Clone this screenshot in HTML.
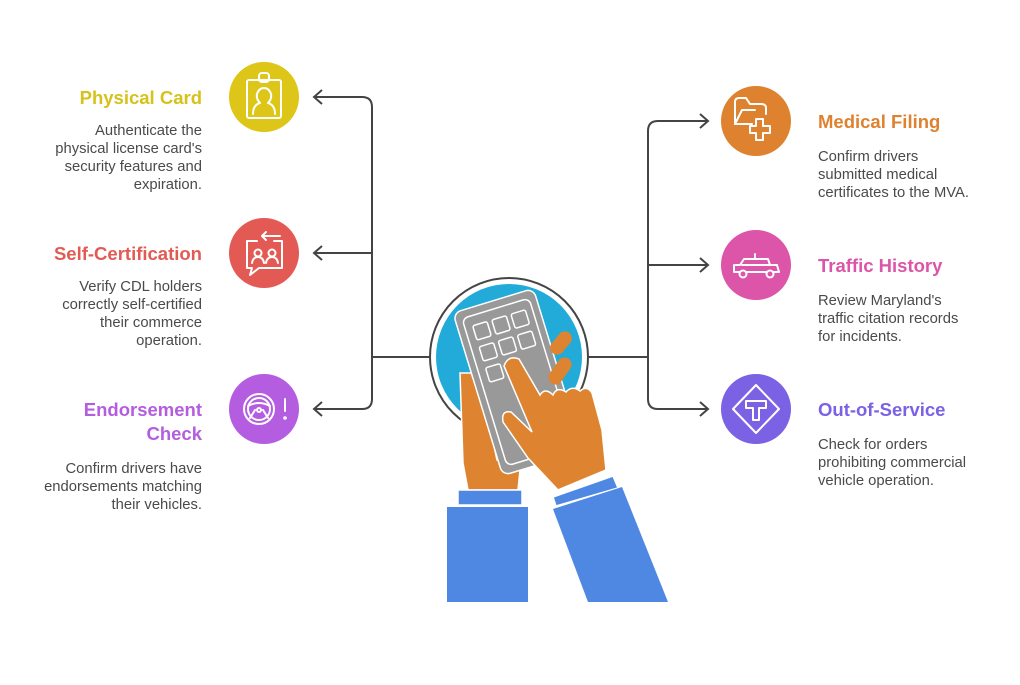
<!DOCTYPE html>
<html><head><meta charset="utf-8"><style>
html,body{margin:0;padding:0;background:#fff;}
svg{display:block;font-family:"Liberation Sans",sans-serif;}
.t{font-weight:bold;font-size:18.5px;}
.d{font-size:14.8px;fill:#4a4a4a;}
.ln{fill:none;stroke:#444;stroke-width:2;}
.ic{fill:none;stroke:#fff;stroke-width:2;stroke-linecap:round;stroke-linejoin:round;}
</style></head><body>
<svg width="1020" height="685" viewBox="0 0 1020 685">
<path class="ln" d="M430 357 H372 M314 97 H362 Q372 97 372 107 V399 Q372 409 362 409 H314 M314 253 H372"/>
<path class="ln" d="M322 90 L314 97 L322 104 M322 246 L314 253 L322 260 M322 402 L314 409 L322 416"/>
<path class="ln" d="M586 357 H648 M708 121 H658 Q648 121 648 131 V399 Q648 409 658 409 H708 M708 265 H648"/>
<path class="ln" d="M700 114 L708 121 L700 128 M700 258 L708 265 L700 272 M700 402 L708 409 L700 416"/>

<circle cx="264" cy="97" r="35" fill="#DDC618"/>
<circle cx="264" cy="253" r="35" fill="#E35A55"/>
<circle cx="264" cy="409" r="35" fill="#B45DE0"/>
<circle cx="756" cy="121" r="35" fill="#DE8230"/>
<circle cx="756" cy="265" r="35" fill="#DC55A8"/>
<circle cx="756" cy="409" r="35" fill="#7B62E4"/>

<g class="ic">
 <rect x="247" y="80" width="34" height="38" rx="2"/>
 <rect x="259" y="73" width="10" height="9" rx="3"/>
 <path d="M253 114 Q253 105 260 103 Q256 99 257 94 Q259 88 264 88 Q269 88 271 94 Q272 99 268 103 Q275 105 275 114"/>
 <path d="M257 241 H247 V268 H252 L250 275 L259 268 H282 V241 H274"/>
 <path d="M280 236 H262 M266 232 L262 236 L266 240"/>
 <circle cx="258" cy="253" r="3.5"/><path d="M252 263 Q253 257 258 257 Q263 257 264 263"/>
 <circle cx="272" cy="253" r="3.5"/><path d="M266 263 Q267 257 272 257 Q277 257 278 263"/>
 <circle cx="259" cy="409" r="15"/><circle cx="259" cy="409" r="11"/>
 <path d="M248 406 Q259 400 270 406 M255 410 L250 418 M263 410 L268 418"/><circle cx="259" cy="410" r="2"/>
 <path d="M285 399 V411"/><circle cx="285" cy="418" r="0.8"/>
 <path d="M735 124 V102 Q735 98 739 98 H746 L750 104 H761 Q766 104 766 108 V114 M735 124 L742 110 H755"/>
 <path d="M735 124 H752 M756 119 V126 H750 V133 H756 V140 H763 V133 H770 V126 H763 V119 Z"/>
 <path d="M734 272 L734 265 L740 265 L744 259 H768 L770 265 H777 L779 272 Z M755 259 V254 M742 265 H770"/>
 <circle cx="743" cy="274" r="3.5" fill="#DC55A8"/><circle cx="770" cy="274" r="3.5" fill="#DC55A8"/>
 <path d="M756 385 L779 409 L756 433 L733 409 Z"/>
 <path d="M746 401 H766 V408 H759 V420 H753 V408 H746 Z"/>
</g>

<g text-anchor="end">
<text class="t" x="202" y="104" fill="#D6C21A">Physical Card</text>
<text class="d" x="202" y="135">Authenticate the</text>
<text class="d" x="202" y="153">physical license card's</text>
<text class="d" x="202" y="171">security features and</text>
<text class="d" x="202" y="189">expiration.</text>
<text class="t" x="202" y="260" fill="#E35A55">Self-Certification</text>
<text class="d" x="202" y="291">Verify CDL holders</text>
<text class="d" x="202" y="309">correctly self-certified</text>
<text class="d" x="202" y="327">their commerce</text>
<text class="d" x="202" y="345">operation.</text>
<text class="t" x="202" y="416" fill="#B45DE0">Endorsement</text>
<text class="t" x="202" y="440" fill="#B45DE0">Check</text>
<text class="d" x="202" y="473">Confirm drivers have</text>
<text class="d" x="202" y="491">endorsements matching</text>
<text class="d" x="202" y="509">their vehicles.</text>
</g>
<text class="t" x="818" y="128" fill="#DE8230">Medical Filing</text>
<text class="d" x="818" y="161">Confirm drivers</text>
<text class="d" x="818" y="179">submitted medical</text>
<text class="d" x="818" y="197">certificates to the MVA.</text>
<text class="t" x="818" y="272" fill="#DC55A8">Traffic History</text>
<text class="d" x="818" y="305">Review Maryland's</text>
<text class="d" x="818" y="323">traffic citation records</text>
<text class="d" x="818" y="341">for incidents.</text>
<text class="t" x="818" y="416" fill="#7B62E4">Out-of-Service</text>
<text class="d" x="818" y="449">Check for orders</text>
<text class="d" x="818" y="467">prohibiting commercial</text>
<text class="d" x="818" y="485">vehicle operation.</text>

<circle cx="509" cy="357" r="79" fill="#fff" stroke="#444" stroke-width="2"/>
<circle cx="509" cy="357" r="73" fill="#22AAD8"/>
<path d="M460 373 L471 373 L486 410 L497 460 L520 470 L518 490 L468 490 L463 463 Z" fill="#DE8430" stroke="#fff" stroke-width="1.5"/>
<g transform="translate(453,313) rotate(-17)">
 <rect x="0" y="0" width="84" height="170" rx="8" fill="#999" stroke="#fff" stroke-width="1.5"/>
 <rect x="7" y="8" width="70" height="154" rx="6" fill="none" stroke="#fff" stroke-width="1.5"/>
 <g fill="none" stroke="#fff" stroke-width="1.5">
  <rect x="15" y="18" width="15" height="15" rx="2"/><rect x="35" y="18" width="15" height="15" rx="2"/><rect x="55" y="18" width="15" height="15" rx="2"/>
  <rect x="15" y="40" width="15" height="15" rx="2"/><rect x="35" y="40" width="15" height="15" rx="2"/><rect x="55" y="40" width="15" height="15" rx="2"/>
  <rect x="15" y="62" width="15" height="15" rx="2"/>
 </g>
</g>
<rect x="554" y="330" width="14" height="26" rx="7" fill="#DE8430" transform="rotate(40 561 343)"/>
<rect x="553" y="356" width="14" height="30" rx="7" fill="#DE8430" transform="rotate(35 560 371)"/>
<path d="M504 366 Q508 355 519 359 L540 395 Q545 387 553 395 Q557 386 566 392 Q572 385 580 391 Q587 385 592 393 L602 430 L606 470 L558 490 L528 458 L503 422 Q501 410 511 412 L532 432 Z" fill="#DE8430" stroke="#fff" stroke-width="1.5"/>
<rect x="458" y="490" width="64" height="15" fill="#4F88E2" stroke="#fff" stroke-width="1.5"/>
<rect x="447" y="507" width="81" height="95" fill="#4F88E2"/>
<path d="M553 497 L613 476 L618 488 L556 506 Z" fill="#4F88E2" stroke="#fff" stroke-width="1.5"/>
<path d="M553 509 L622 487 L668 602 L588 602 Z" fill="#4F88E2"/>
</svg>
</body></html>
